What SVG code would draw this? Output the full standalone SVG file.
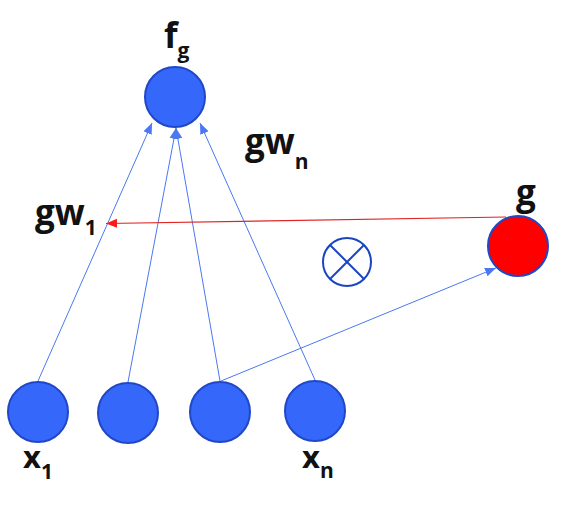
<svg xmlns="http://www.w3.org/2000/svg" width="581" height="506" viewBox="0 0 581 506">
<defs>
<style>
.node{fill:#3568fa;stroke:#1f47c8;stroke-width:2}
.red{fill:#ff0000;stroke:#1f47c8;stroke-width:2}
.lbl{font-family:"Open Sans","Liberation Sans",sans-serif;font-weight:bold;fill:#111;font-size:35px}
.sub{font-size:21px}
.edge{stroke:#4a78f0;stroke-width:1;fill:none}
.edgeR{stroke:#e02424;stroke-width:1.2;fill:none}
</style>
<marker id="ab" markerUnits="userSpaceOnUse" markerWidth="12" markerHeight="10" refX="11" refY="4.5" orient="auto"><path d="M0,0 L11,4.5 L0,9 Z" fill="#4a78f0"/></marker>
<marker id="ar" markerUnits="userSpaceOnUse" markerWidth="12" markerHeight="10" refX="11" refY="4.5" orient="auto"><path d="M0,0 L11,4.5 L0,9 Z" fill="#ff1a1a"/></marker>
</defs>
<g id="connectors">
<line class="edge" x1="38" y1="381" x2="152" y2="123" marker-end="url(#ab)"/>
<line class="edge" x1="128" y1="382" x2="176" y2="128" marker-end="url(#ab)"/>
<line class="edge" x1="220" y1="381" x2="176" y2="128" marker-end="url(#ab)"/>
<line class="edge" x1="315" y1="380" x2="200" y2="123" marker-end="url(#ab)"/>
<line class="edge" x1="221" y1="381" x2="496" y2="268" marker-end="url(#ab)"/>
<line class="edgeR" x1="506" y1="217" x2="106" y2="223.5" marker-end="url(#ar)"/>
</g>
<g id="fg"><circle class="node" cx="175" cy="97" r="30"/><text class="lbl" x="164" y="48">f<tspan class="sub" dy="10">g</tspan></text></g>
<g id="g"><circle class="red" cx="518" cy="246" r="30"/><text class="lbl" x="516" y="205">g</text></g>
<g id="x1"><circle class="node" cx="38" cy="412" r="30"/><text class="lbl" x="23" y="468" style="font-size:31px">x<tspan class="sub" dy="11">1</tspan></text></g>
<g id="x2"><circle class="node" cx="128" cy="413" r="30"/></g>
<g id="x3"><circle class="node" cx="220" cy="412" r="30"/></g>
<g id="xn"><circle class="node" cx="315" cy="411" r="30"/><text class="lbl" x="302" y="468" style="font-size:31px">x<tspan class="sub" dy="10">n</tspan></text></g>
<g id="otimes"><circle cx="347" cy="262" r="24" fill="none" stroke="#1a45c0" stroke-width="2"/><line x1="330" y1="245" x2="364" y2="279" stroke="#1a45c0" stroke-width="2"/><line x1="364" y1="245" x2="330" y2="279" stroke="#1a45c0" stroke-width="2"/></g>
<g id="labels"><text class="lbl" x="245" y="154">gw<tspan class="sub" dy="15">n</tspan></text><text class="lbl" x="35" y="225">gw<tspan class="sub" dy="10">1</tspan></text></g>
</svg>
